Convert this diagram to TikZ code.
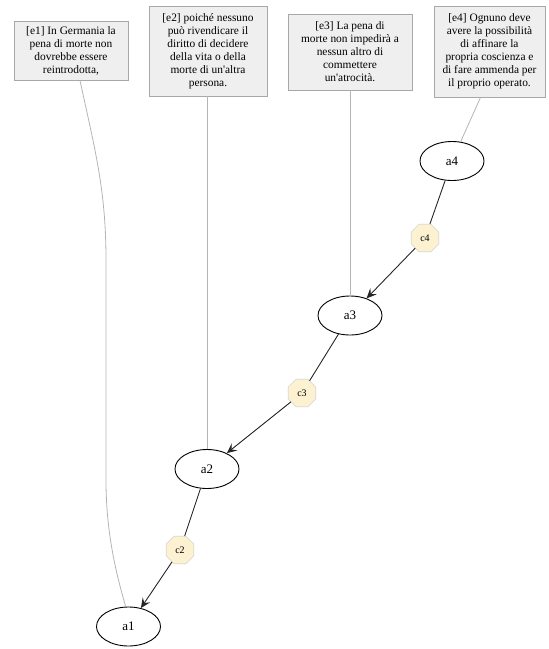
\documentclass[tikz,border=0pt]{standalone}
\usepackage{fontspec}
\setmainfont{Liberation Serif}[Ligatures=TeXOff]
\usetikzlibrary{shapes.geometric,arrows.meta}
\definecolor{boxfill}{HTML}{EFEFEF}
\definecolor{boxline}{HTML}{A8A8A8}
\definecolor{octfill}{HTML}{FCF2D2}
\definecolor{octline}{HTML}{C4C4C4}
\definecolor{linkgray}{HTML}{B4B4B4}
\begin{document}
\begin{tikzpicture}[x=1pt,y=-1pt,
  ebox/.style={draw=boxline,fill=boxfill,line width=0.9pt,align=center,
    font=\fontsize{11.4}{13}\selectfont,inner sep=0pt},
  arg/.style={draw,ellipse,line width=0.9pt,minimum width=64pt,minimum height=39pt,
    inner sep=0pt,font=\fontsize{13}{14}\selectfont},
  conn/.style={draw=octline,fill=octfill,regular polygon,regular polygon sides=8,
    minimum size=30pt,inner sep=0pt,font=\fontsize{10}{11}\selectfont},
  link/.style={draw=linkgray,line width=0.8pt},
  sup/.style={draw=black!85,line width=0.9pt},
  suparr/.style={sup,-{Stealth[length=10pt,width=9pt,inset=4pt]}}]
\useasboundingbox (0,0) rectangle (549,649);
\node[ebox,minimum width=114pt,minimum height=59pt] (e1) at (71,50.5)
  {[e1] In Germania la\\pena di morte non\\dovrebbe essere\\reintrodotta,};
\node[ebox,minimum width=118pt,minimum height=90pt] (e2) at (208,51)
  {[e2] poiché nessuno\\può rivendicare il\\diritto di decidere\\della vita o della\\morte di un'altra\\persona.};
\node[ebox,minimum width=124pt,minimum height=76pt] (e3) at (350,52)
  {[e3] La pena di\\morte non impedirà a\\nessun altro di\\commettere\\un'atrocità.};
\node[ebox,minimum width=111pt,minimum height=91pt] (e4) at (489.5,51.5)
  {[e4] Ognuno deve\\avere la possibilità\\di affinare la\\propria coscienza e\\di fare ammenda per\\il proprio operato.};
\node[arg] (a4) at (452,161) {a4};
\node[arg] (a3) at (350,315.5) {a3};
\node[arg] (a2) at (207,469) {a2};
\node[arg] (a1) at (128.5,626.5) {a1};
\node[conn] (c4) at (425,238) {c4};
\node[conn] (c3) at (302,393) {c3};
\node[conn] (c2) at (180,550) {c2};
\coordinate (e1s) at ([xshift=9pt]e1.south);
\draw[link] (e1s) .. controls (95,150) and (106,190) .. (106,260)
  -- (106,480) .. controls (106,530) and (115,570) .. (a1.98);
\draw[link] (e2.south -| a2.north) -- (a2.north);
\draw[link] (e3.south -| a3.north) -- (a3.north);
\coordinate (e4s) at ([xshift=-9pt]e4.south);
\draw[link] (e4s) -- (a4);
\draw[sup] (a4) -- (c4);
\draw[suparr] (c4) -- (a3);
\draw[sup] (a3) -- (c3);
\draw[suparr] (c3) -- (a2);
\draw[sup] (a2) -- (c2);
\draw[suparr] (c2) -- (a1);
\end{tikzpicture}
\end{document}
